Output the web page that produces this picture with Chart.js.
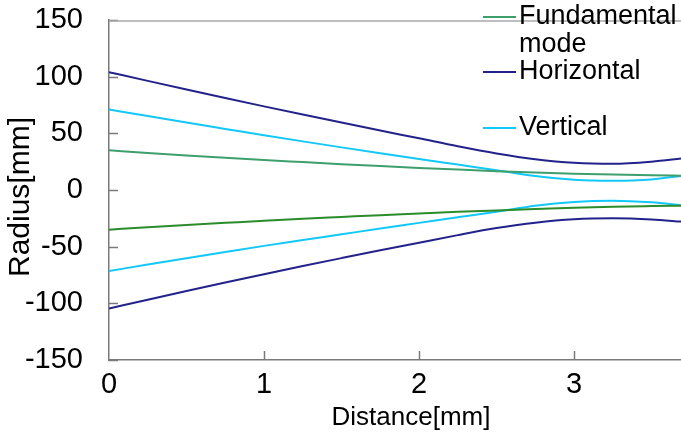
<!DOCTYPE html>
<html>
<head>
<meta charset="utf-8">
<script src="https://cdn.jsdelivr.net/npm/chart.js@4/dist/chart.umd.min.js"></script>
<style>
  html, body { margin: 0; padding: 0; background: #fff; }
  #wrap { width: 681px; height: 442px; }
</style>
</head>
<body>
<div id="wrap"><canvas id="beamChart"></canvas></div>
<script>
// distance along the beam line [mm]
var distance = [0, 0.25, 0.5, 0.75, 1.0, 1.25, 1.5, 1.75, 2.0, 2.25, 2.5, 2.75, 3.0, 3.25, 3.5, 3.7];

// envelope radii [mm]
var fundUpper = [35, 32.7, 30.5, 28.4, 26.4, 24.6, 22.8, 21.1, 19.5, 18.0, 16.6, 15.4, 14.4, 13.6, 13.0, 12.6];
var fundLower = [-35, -32.9, -30.9, -29.0, -27.1, -25.4, -23.8, -22.2, -20.8, -19.3, -18.0, -16.8, -15.7, -14.8, -14.2, -13.8];
var horizUpper = [104, 96.3, 88.7, 81.2, 73.8, 66.6, 59.5, 52.5, 45.6, 38.6, 32.3, 27.2, 24.0, 23.1, 25.0, 28];
var horizLower = [-104.5, -96.8, -89.2, -81.7, -74.3, -67.1, -60.1, -53.2, -46.5, -39.8, -33.6, -28.8, -25.8, -25.0, -26.0, -28];
var vertUpper = [71, 65.2, 59.5, 53.9, 48.3, 42.9, 37.6, 32.4, 27.3, 22.4, 17.5, 12.3, 9.0, 8.1, 9.3, 12.6];
var vertLower = [-71.5, -65.8, -60.2, -54.7, -49.3, -44.2, -39.1, -34.0, -29.0, -24.0, -19.2, -13.8, -10.5, -9.5, -10.9, -13.5];

var xTicks = [0, 1, 2, 3];
var yTicks = [-150, -100, -50, 0, 50, 100, 150];

var legendNames = ['Fundamental', 'Horizontal', 'Vertical'];
var legendColors = ['#3c9f6c', '#22228c', '#12c8f8'];

var FONT = '"Liberation Sans", Arial, sans-serif';

function pts(ys) {
    return distance.map(function (d, i) { return { x: d, y: ys[i] }; });
}

function line(label, ys, color) {
    return {
        label: label,
        data: pts(ys),
        borderColor: color,
        backgroundColor: color,
        borderWidth: 2,
        pointRadius: 0,
        cubicInterpolationMode: 'monotone',
        fill: false
    };
}

// inward tick marks, light top frame line, axis titles and legend
var frame = {
    id: 'frame',
    afterDraw: function (chart) {
        var c = chart.ctx, a = chart.chartArea;
        var xs = chart.scales.x, ys = chart.scales.y;
        c.save();
        c.strokeStyle = '#7a7a7a';
        c.lineWidth = 1.5;
        yTicks.forEach(function (v) {
            var py = Math.round(ys.getPixelForValue(v)) + 0.5;
            c.beginPath(); c.moveTo(a.left, py); c.lineTo(a.left + 9, py); c.stroke();
        });
        xTicks.forEach(function (v) {
            if (v === 0) return;
            var px = Math.round(xs.getPixelForValue(v)) + 0.5;
            c.beginPath(); c.moveTo(px, a.bottom); c.lineTo(px, a.bottom - 9); c.stroke();
        });
        c.strokeStyle = '#a8a8a8';
        c.lineWidth = 1.5;
        c.beginPath(); c.moveTo(a.left, a.top + 1); c.lineTo(a.right, a.top + 1); c.stroke();

        c.fillStyle = '#000';
        c.textBaseline = 'middle';
        c.textAlign = 'center';
        c.font = '26px ' + FONT;
        c.fillText('Distance[mm]', 411, 418);
        c.save();
        c.translate(21, 197);
        c.rotate(-Math.PI / 2);
        c.font = '30px ' + FONT;
        c.fillText('Radius[mm]', 0, 0);
        c.restore();

        // legend
        c.font = '27px ' + FONT;
        c.textAlign = 'left';
        var rows = [17, 72, 128];
        rows.forEach(function (yy, i) {
            c.strokeStyle = legendColors[i];
            c.lineWidth = 2;
            c.beginPath(); c.moveTo(483, yy); c.lineTo(516, yy); c.stroke();
            c.fillStyle = '#000';
            c.fillText(legendNames[i], 519, yy);
        });
        c.fillText('mode', 519, 45);
        c.restore();
    }
};

var ctx = document.getElementById('beamChart');

var beamChart = new Chart(ctx, {
    type: 'line',
    data: {
        datasets: [
            line('Fundamental mode', fundUpper, '#3c9f6c'),
            line('Fundamental mode (lower)', fundLower, '#2a8c2a'),
            line('Horizontal', horizUpper, '#22228c'),
            line('Horizontal (lower)', horizLower, '#22228c'),
            line('Vertical', vertUpper, '#12c8f8'),
            line('Vertical (lower)', vertLower, '#12c8f8')
        ]
    },
    options: {
        responsive: true,
        maintainAspectRatio: false,
        animation: false,
        layout: { padding: { top: 20, right: 0, left: 0, bottom: 0 } },
        scales: {
            x: {
                type: 'linear',
                min: 0,
                max: 3.69,
                afterFit: function (s) {
                    s.height = 82;
                    s.paddingLeft = 0;
                    s.paddingRight = 0;
                },
                afterBuildTicks: function (s) {
                    s.ticks = xTicks.map(function (v) { return { value: v }; });
                },
                ticks: {
                    padding: 8,
                    color: '#000',
                    font: { family: FONT, size: 29 },
                    maxRotation: 0
                },
                grid: { display: false, drawTicks: false },
                border: { display: true, color: '#7a7a7a', width: 1.5 },
                title: { display: false }
            },
            y: {
                min: -150,
                max: 150,
                afterFit: function (s) {
                    s.width = 109;
                    s.paddingTop = 0;
                    s.paddingBottom = 0;
                },
                afterBuildTicks: function (s) {
                    s.ticks = yTicks.map(function (v) { return { value: v }; });
                },
                ticks: {
                    padding: 26,
                    color: '#000',
                    font: { family: FONT, size: 29 }
                },
                grid: { display: false, drawTicks: false },
                border: { display: true, color: '#7a7a7a', width: 1.5 },
                title: { display: false }
            }
        },
        plugins: {
            legend: { display: false },
            tooltip: { enabled: false }
        }
    },
    plugins: [frame]
});
</script>
</body>
</html>
